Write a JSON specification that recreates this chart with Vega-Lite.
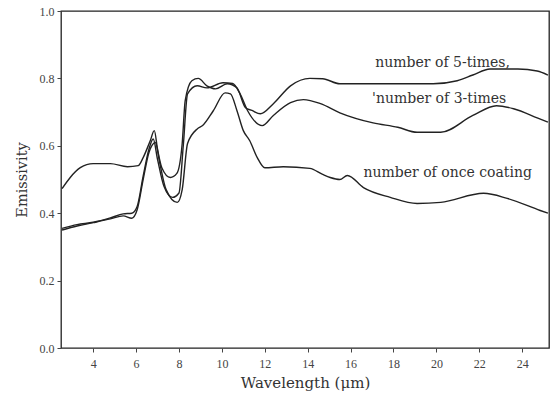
{
  "$schema": "https://vega.github.io/schema/vega-lite/v6.json",
  "autosize": "none",
  "width": 488,
  "height": 337,
  "padding": {"left": 61, "top": 11, "right": 6, "bottom": 58},
  "background": "white",
  "config": {
    "view": {"stroke": "#222", "strokeWidth": 1.3},
    "font": "Liberation Serif"
  },
  "datasets": {
    "curves": [
      {"series": "5-times", "wavelength": 2.55, "emissivity": 0.473},
      {"series": "5-times", "wavelength": 2.93, "emissivity": 0.506},
      {"series": "5-times", "wavelength": 3.4, "emissivity": 0.535},
      {"series": "5-times", "wavelength": 4.0, "emissivity": 0.547},
      {"series": "5-times", "wavelength": 4.8, "emissivity": 0.547},
      {"series": "5-times", "wavelength": 5.6, "emissivity": 0.538},
      {"series": "5-times", "wavelength": 6.1, "emissivity": 0.541},
      {"series": "5-times", "wavelength": 6.33, "emissivity": 0.565},
      {"series": "5-times", "wavelength": 6.66, "emissivity": 0.615},
      {"series": "5-times", "wavelength": 6.85, "emissivity": 0.645},
      {"series": "5-times", "wavelength": 7.0, "emissivity": 0.59},
      {"series": "5-times", "wavelength": 7.2, "emissivity": 0.535},
      {"series": "5-times", "wavelength": 7.6, "emissivity": 0.506},
      {"series": "5-times", "wavelength": 7.9, "emissivity": 0.518},
      {"series": "5-times", "wavelength": 8.15, "emissivity": 0.607},
      {"series": "5-times", "wavelength": 8.29, "emissivity": 0.734},
      {"series": "5-times", "wavelength": 8.6, "emissivity": 0.793},
      {"series": "5-times", "wavelength": 8.9, "emissivity": 0.8},
      {"series": "5-times", "wavelength": 9.3, "emissivity": 0.778},
      {"series": "5-times", "wavelength": 9.7, "emissivity": 0.769},
      {"series": "5-times", "wavelength": 10.25, "emissivity": 0.784},
      {"series": "5-times", "wavelength": 10.7, "emissivity": 0.772},
      {"series": "5-times", "wavelength": 11.1, "emissivity": 0.713},
      {"series": "5-times", "wavelength": 11.4, "emissivity": 0.705},
      {"series": "5-times", "wavelength": 11.79, "emissivity": 0.695},
      {"series": "5-times", "wavelength": 12.4, "emissivity": 0.725},
      {"series": "5-times", "wavelength": 13.2, "emissivity": 0.778},
      {"series": "5-times", "wavelength": 14.1, "emissivity": 0.8},
      {"series": "5-times", "wavelength": 14.7, "emissivity": 0.799},
      {"series": "5-times", "wavelength": 15.5, "emissivity": 0.784},
      {"series": "5-times", "wavelength": 17.05, "emissivity": 0.784},
      {"series": "5-times", "wavelength": 18.2, "emissivity": 0.784},
      {"series": "5-times", "wavelength": 19.85, "emissivity": 0.784},
      {"series": "5-times", "wavelength": 20.97, "emissivity": 0.793},
      {"series": "5-times", "wavelength": 21.7, "emissivity": 0.81},
      {"series": "5-times", "wavelength": 22.5, "emissivity": 0.828},
      {"series": "5-times", "wavelength": 23.8, "emissivity": 0.828},
      {"series": "5-times", "wavelength": 24.7, "emissivity": 0.822},
      {"series": "5-times", "wavelength": 25.2, "emissivity": 0.81},

      {"series": "3-times", "wavelength": 2.55, "emissivity": 0.355},
      {"series": "3-times", "wavelength": 3.25, "emissivity": 0.366},
      {"series": "3-times", "wavelength": 4.0, "emissivity": 0.373},
      {"series": "3-times", "wavelength": 4.8, "emissivity": 0.386},
      {"series": "3-times", "wavelength": 5.4, "emissivity": 0.398},
      {"series": "3-times", "wavelength": 5.8, "emissivity": 0.4},
      {"series": "3-times", "wavelength": 6.05, "emissivity": 0.42},
      {"series": "3-times", "wavelength": 6.33, "emissivity": 0.51},
      {"series": "3-times", "wavelength": 6.6, "emissivity": 0.59},
      {"series": "3-times", "wavelength": 6.8, "emissivity": 0.62},
      {"series": "3-times", "wavelength": 7.0, "emissivity": 0.56},
      {"series": "3-times", "wavelength": 7.3, "emissivity": 0.48},
      {"series": "3-times", "wavelength": 7.7, "emissivity": 0.447},
      {"series": "3-times", "wavelength": 8.0, "emissivity": 0.46},
      {"series": "3-times", "wavelength": 8.2, "emissivity": 0.6},
      {"series": "3-times", "wavelength": 8.4, "emissivity": 0.754},
      {"series": "3-times", "wavelength": 8.85, "emissivity": 0.778},
      {"series": "3-times", "wavelength": 9.3, "emissivity": 0.772},
      {"series": "3-times", "wavelength": 10.05, "emissivity": 0.787},
      {"series": "3-times", "wavelength": 10.5, "emissivity": 0.785},
      {"series": "3-times", "wavelength": 10.85, "emissivity": 0.754},
      {"series": "3-times", "wavelength": 11.2, "emissivity": 0.704},
      {"series": "3-times", "wavelength": 11.88, "emissivity": 0.66},
      {"series": "3-times", "wavelength": 12.4, "emissivity": 0.69},
      {"series": "3-times", "wavelength": 13.2, "emissivity": 0.728},
      {"series": "3-times", "wavelength": 13.8, "emissivity": 0.737},
      {"series": "3-times", "wavelength": 14.6, "emissivity": 0.725},
      {"series": "3-times", "wavelength": 15.5, "emissivity": 0.698},
      {"series": "3-times", "wavelength": 17.05, "emissivity": 0.668},
      {"series": "3-times", "wavelength": 18.2, "emissivity": 0.655},
      {"series": "3-times", "wavelength": 19.1, "emissivity": 0.64},
      {"series": "3-times", "wavelength": 20.2, "emissivity": 0.64},
      {"series": "3-times", "wavelength": 21.7, "emissivity": 0.69},
      {"series": "3-times", "wavelength": 22.8, "emissivity": 0.719},
      {"series": "3-times", "wavelength": 23.6, "emissivity": 0.71},
      {"series": "3-times", "wavelength": 24.7, "emissivity": 0.683},
      {"series": "3-times", "wavelength": 25.2, "emissivity": 0.67},

      {"series": "once", "wavelength": 2.55, "emissivity": 0.35},
      {"series": "once", "wavelength": 3.25, "emissivity": 0.362},
      {"series": "once", "wavelength": 4.0, "emissivity": 0.372},
      {"series": "once", "wavelength": 4.8, "emissivity": 0.383},
      {"series": "once", "wavelength": 5.4, "emissivity": 0.392},
      {"series": "once", "wavelength": 5.8, "emissivity": 0.385},
      {"series": "once", "wavelength": 6.05, "emissivity": 0.41},
      {"series": "once", "wavelength": 6.33, "emissivity": 0.5},
      {"series": "once", "wavelength": 6.6, "emissivity": 0.58},
      {"series": "once", "wavelength": 6.9, "emissivity": 0.61},
      {"series": "once", "wavelength": 7.1, "emissivity": 0.55},
      {"series": "once", "wavelength": 7.4, "emissivity": 0.47},
      {"series": "once", "wavelength": 7.92, "emissivity": 0.432},
      {"series": "once", "wavelength": 8.15, "emissivity": 0.47},
      {"series": "once", "wavelength": 8.4, "emissivity": 0.607},
      {"series": "once", "wavelength": 8.85, "emissivity": 0.65},
      {"series": "once", "wavelength": 9.1, "emissivity": 0.66},
      {"series": "once", "wavelength": 9.6, "emissivity": 0.704},
      {"series": "once", "wavelength": 10.15, "emissivity": 0.757},
      {"series": "once", "wavelength": 10.4, "emissivity": 0.754},
      {"series": "once", "wavelength": 10.7, "emissivity": 0.705},
      {"series": "once", "wavelength": 11.0, "emissivity": 0.645},
      {"series": "once", "wavelength": 11.3, "emissivity": 0.615},
      {"series": "once", "wavelength": 11.65, "emissivity": 0.565},
      {"series": "once", "wavelength": 12.0, "emissivity": 0.535},
      {"series": "once", "wavelength": 12.86, "emissivity": 0.538},
      {"series": "once", "wavelength": 14.1, "emissivity": 0.533},
      {"series": "once", "wavelength": 14.7, "emissivity": 0.515},
      {"series": "once", "wavelength": 15.05, "emissivity": 0.506},
      {"series": "once", "wavelength": 15.5, "emissivity": 0.5},
      {"series": "once", "wavelength": 15.85, "emissivity": 0.512},
      {"series": "once", "wavelength": 16.6, "emissivity": 0.476},
      {"series": "once", "wavelength": 17.85, "emissivity": 0.447},
      {"series": "once", "wavelength": 19.1, "emissivity": 0.429},
      {"series": "once", "wavelength": 20.2, "emissivity": 0.432},
      {"series": "once", "wavelength": 22.2, "emissivity": 0.459},
      {"series": "once", "wavelength": 23.3, "emissivity": 0.444},
      {"series": "once", "wavelength": 24.84, "emissivity": 0.408},
      {"series": "once", "wavelength": 25.2, "emissivity": 0.4}
    ],
    "labels": [
      {"wavelength": 17.15, "emissivity": 0.846, "text": "number of 5-times,"},
      {"wavelength": 17.0, "emissivity": 0.74, "text": "'number of 3-times"},
      {"wavelength": 16.6, "emissivity": 0.518, "text": "number of once coating"}
    ]
  },
  "layer": [
    {
      "data": {"name": "curves"},
      "mark": {"type": "line", "interpolate": "monotone", "color": "#222", "strokeWidth": 1.4},
      "encoding": {
        "x": {
          "field": "wavelength", "type": "quantitative",
          "scale": {"domain": [2.5, 25.25], "nice": false, "zero": false},
          "axis": {
            "title": "Wavelength (μm)", "values": [4, 6, 8, 10, 12, 14, 16, 18, 20, 22, 24],
            "grid": false, "domain": false, "tickSize": 4, "tickColor": "#444",
            "labelFont": "Liberation Serif", "labelFontSize": 12, "labelColor": "#444", "labelPadding": 6,
            "titleFont": "DejaVu Serif", "titleFontSize": 15, "titleFontWeight": "normal", "titleColor": "#333", "titlePadding": 6
          }
        },
        "y": {
          "field": "emissivity", "type": "quantitative",
          "scale": {"domain": [0, 1], "nice": false},
          "axis": {
            "title": "Emissivity", "values": [0, 0.2, 0.4, 0.6, 0.8, 1.0], "format": ".1f",
            "grid": false, "domain": false, "tickSize": 4, "tickColor": "#444",
            "labelFont": "Liberation Serif", "labelFontSize": 12, "labelColor": "#444", "labelPadding": 3,
            "titleFont": "DejaVu Serif", "titleFontSize": 14.5, "titleFontWeight": "normal", "titleColor": "#333", "titlePadding": 10
          }
        },
        "detail": {"field": "series"}
      }
    },
    {
      "data": {"name": "labels"},
      "mark": {"type": "text", "align": "left", "baseline": "middle", "font": "DejaVu Serif", "fontSize": 14, "color": "#333"},
      "encoding": {
        "x": {"field": "wavelength", "type": "quantitative"},
        "y": {"field": "emissivity", "type": "quantitative"},
        "text": {"field": "text"}
      }
    }
  ]
}
